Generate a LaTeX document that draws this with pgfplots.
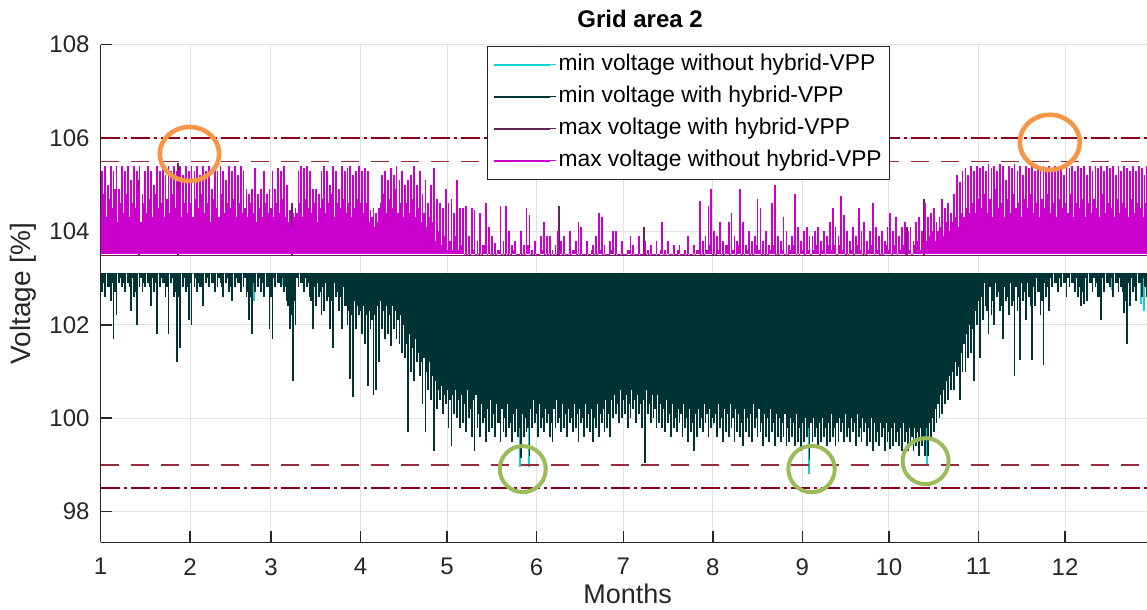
\documentclass[border=0pt]{standalone}
\usepackage{fontspec}
\setmainfont{Liberation Sans}
\usepackage{pgfplots}
\usepackage{pgfplotstable}
\pgfplotsset{compat=1.18}

\definecolor{cyanC}{RGB}{20,210,210}
\definecolor{tealD}{RGB}{0,51,51}
\definecolor{tealL}{RGB}{105,155,155}
\definecolor{purpC}{RGB}{100,35,85}
\definecolor{magC}{RGB}{204,0,204}
\definecolor{axisC}{RGB}{38,38,38}
\definecolor{gridC}{RGB}{225,225,225}
\definecolor{limA}{RGB}{150,45,60}
\definecolor{limB}{RGB}{140,0,25}
\definecolor{orC}{RGB}{247,150,70}
\definecolor{grC}{RGB}{155,187,89}

% daily dips / peaks: d = day of year, ta/tb = min voltage with hybrid-VPP (two per day),
% ma/mb = max voltage without hybrid-VPP (two per day)
\pgfplotstableread{
d ta tb ma mb
0 103.0 102.7 104.4 105.3
1 102.9 102.6 104.8 105.4
2 103.1 102.8 104.3 105.0
3 102.8 102.5 104.7 105.4
4 102.9 101.7 104.5 105.3
5 102.7 102.2 104.9 105.4
6 103.1 102.9 104.2 104.9
7 103.0 102.8 104.6 105.4
8 102.9 102.7 104.4 105.3
9 103.1 102.9 104.8 105.4
10 102.8 102.3 104.3 105.1
11 103.0 102.6 104.6 105.4
12 102.7 102.0 104.5 105.3
13 103.1 102.8 104.9 105.4
14 103.0 102.7 104.2 104.8
15 102.9 102.8 104.6 105.3
16 103.1 102.9 104.4 105.4
17 102.8 102.4 104.7 105.3
18 103.0 102.7 104.3 105.0
19 102.9 101.8 104.8 105.4
20 103.1 102.8 104.5 105.3
21 103.0 102.9 104.6 105.4
22 102.9 102.6 104.3 105.2
23 102.8 101.8 104.7 105.4
24 103.1 102.9 104.4 105.3
25 103.0 102.6 104.8 105.4
26 102.7 101.2 104.5 105.3
27 102.6 101.5 104.9 105.4
28 103.1 102.8 104.3 105.2
29 103.0 102.7 104.6 105.4
30 102.8 102.1 104.4 105.3
31 102.9 102.0 104.6 105.4
32 103.1 102.8 104.3 105.3
33 103.0 102.7 104.7 105.4
34 102.9 102.8 104.5 105.2
35 102.8 102.4 104.8 105.4
36 103.1 102.9 104.4 105.3
37 103.0 102.8 104.6 105.4
38 103.1 102.9 104.2 104.9
39 102.9 102.7 104.7 105.4
40 103.1 102.8 104.5 105.3
41 103.0 102.9 104.3 105.4
42 102.8 102.6 104.8 105.3
43 103.1 102.9 104.4 105.1
44 103.0 102.7 104.6 105.4
45 102.8 102.5 104.5 105.3
46 103.1 102.8 104.7 105.4
47 103.0 102.9 104.3 105.2
48 102.9 102.7 104.6 105.4
49 103.1 102.8 104.4 105.3
50 103.0 102.6 104.5 104.9
51 102.7 102.1 104.3 104.8
52 102.6 101.8 104.6 104.9
53 102.9 102.7 104.4 105.35
54 103.1 102.8 104.2 104.8
55 103.0 102.7 104.5 104.9
56 102.9 102.6 104.3 105.3
57 103.1 102.8 104.6 104.8
58 102.8 101.9 104.4 104.9
59 102.6 101.7 104.5 105.3
60 103.0 102.8 104.3 104.9
61 103.1 102.9 104.6 105.35
62 102.9 102.8 104.4 105.3
63 103.0 102.7 104.7 105.4
64 102.8 102.5 104.3 105.0
65 102.4 101.9 104.2 104.45
66 102.2 100.8 104.1 104.4
67 102.5 102.0 104.3 104.5
68 103.0 102.8 104.4 105.3
69 103.1 102.9 104.6 105.4
70 102.9 102.7 104.3 105.35
71 103.0 102.8 104.7 105.4
72 102.9 102.6 104.5 105.3
73 102.5 101.9 104.4 104.9
74 102.8 102.4 104.6 104.9
75 102.9 102.6 104.2 104.8
76 102.7 102.2 104.5 105.3
77 102.8 102.3 104.7 105.4
78 102.9 102.5 104.4 105.3
79 102.6 101.9 104.6 105.0
80 102.5 101.5 104.8 105.4
81 102.9 102.6 104.3 105.3
82 102.7 102.3 104.6 104.9
83 102.6 101.9 104.5 105.4
84 102.8 102.4 104.7 105.3
85 102.4 102.0 104.4 105.35
86 102.3 100.85 104.6 105.4
87 102.2 100.45 104.3 105.2
88 102.5 101.9 104.5 105.3
89 102.4 102.2 104.7 105.4
90 102.3 101.8 104.6 105.3
91 102.4 101.6 104.4 105.35
92 102.2 100.7 104.6 105.3
93 102.3 101.9 104.2 104.45
94 102.1 100.5 104.3 104.5
95 102.2 100.6 104.1 104.4
96 102.4 101.2 104.2 104.5
97 102.5 101.9 104.6 105.2
98 102.3 101.7 104.8 105.3
99 102.4 101.8 104.4 105.1
100 102.2 101.55 104.7 105.35
101 102.4 101.9 104.5 105.2
102 102.3 101.7 104.9 105.4
103 102.1 101.6 104.4 105.1
104 102.2 101.4 104.6 105.3
105 102.0 101.3 104.3 105.0
106 101.6 99.7 104.6 105.1
107 101.8 101.0 104.4 105.2
108 101.5 100.8 104.7 105.4
109 101.7 101.2 104.3 105.0
110 101.4 100.9 104.5 105.3
111 101.2 100.3 104.2 104.8
112 101.3 99.7 104.4 105.1
113 101.0 100.6 104.1 104.6
114 101.2 100.4 104.3 105.0
115 100.9 99.3 104.2 105.35
116 100.8 100.2 103.8 104.7
117 100.6 100.4 104.0 104.6
118 100.7 100.1 103.7 104.5
119 100.5 100.3 103.9 104.9
120 100.6 99.8 103.6 104.6
121 100.4 99.4 103.8 104.7
122 100.5 100.1 103.6 104.4
123 100.6 100.0 103.9 105.1
124 100.4 99.8 103.6 104.5
125 100.5 99.9 103.7 104.5
126 100.3 99.7 103.5 104.55
127 100.6 100.0 103.5 103.9
128 100.2 99.6 103.5 104.5
129 100.4 99.3 103.6 104.45
130 100.5 99.8 103.5 103.8
131 100.1 99.6 103.5 104.4
132 100.3 99.9 103.5 103.7
133 100.0 99.5 103.7 104.6
134 100.2 99.7 103.5 104.1
135 100.4 99.8 103.5 103.9
136 100.1 99.6 103.5 103.75
137 100.3 99.9 103.5 103.6
138 99.9 99.5 103.6 104.55
139 100.2 99.7 103.5 103.8
140 100.0 99.6 103.5 104.55
141 100.3 99.8 103.5 104.0
142 99.9 99.5 103.5 103.7
143 100.1 99.7 103.6 103.8
144 100.2 99.6 103.5 103.5
145 99.8 99.15 103.5 104.0
146 100.1 99.6 103.5 103.7
147 100.0 99.7 103.5 104.5
148 99.8 99.2 103.7 104.35
149 100.2 99.8 103.5 103.6
150 100.4 99.9 103.5 103.8
151 100.1 99.6 103.5 103.5
152 100.3 99.8 103.5 103.9
153 100.0 99.7 103.6 104.2
154 100.2 99.9 103.5 103.9
155 100.1 99.6 103.5 103.9
156 99.9 99.5 103.5 103.6
157 100.2 99.8 103.5 103.7
158 100.4 99.9 103.5 104.0
159 100.0 99.7 103.6 103.8
160 100.3 99.8 103.5 103.9
161 100.1 99.6 103.5 103.5
162 100.2 99.9 103.5 104.0
163 100.0 99.7 103.5 103.6
164 100.3 99.8 103.6 103.8
165 100.1 99.5 103.5 104.2
166 100.2 99.9 103.5 104.1
167 100.0 99.6 103.5 103.5
168 100.3 99.8 103.5 103.8
169 100.1 99.7 103.5 103.5
170 100.2 99.5 103.6 103.7
171 100.0 99.8 103.5 103.9
172 100.3 99.6 103.5 104.4
173 100.1 99.9 103.6 104.3
174 100.2 99.7 103.5 103.7
175 100.4 99.8 103.5 103.5
176 100.1 99.6 103.5 103.8
177 100.4 100.0 103.6 104.0
178 100.5 100.1 103.5 104.0
179 100.3 99.9 103.5 103.5
180 100.6 100.0 103.5 103.8
181 100.4 100.1 103.5 103.5
182 100.5 99.8 103.5 103.6
183 100.3 100.0 103.6 103.9
184 100.6 100.2 103.5 103.7
185 100.4 99.9 103.5 103.5
186 100.5 100.1 103.5 103.9
187 100.3 99.8 103.5 103.5
188 100.4 99.05 103.5 103.8
189 100.6 100.1 103.5 103.6
190 100.3 99.9 103.5 103.7
191 100.5 100.0 103.5 103.5
192 100.2 99.8 103.5 103.8
193 100.5 99.9 103.5 103.5
194 100.3 99.8 103.6 104.2
195 100.2 99.7 103.5 103.6
196 100.4 99.9 103.5 103.8
197 100.1 99.6 103.5 103.5
198 100.3 99.8 103.5 103.7
199 100.0 99.7 103.5 103.5
200 100.2 99.9 103.6 103.7
201 100.1 99.6 103.5 103.5
202 100.3 99.8 103.5 103.6
203 100.0 99.5 103.5 103.9
204 100.2 99.7 103.5 103.5
205 99.9 99.3 103.5 103.7
206 100.1 99.6 103.5 103.6
207 100.2 99.8 103.6 104.65
208 100.0 99.7 103.5 103.8
209 100.3 99.9 103.5 103.9
210 100.1 99.6 103.6 104.55
211 100.2 99.8 103.7 104.9
212 100.0 99.9 103.5 104.0
213 100.1 99.6 103.5 103.9
214 100.3 99.8 103.6 104.2
215 100.0 99.5 103.5 103.8
216 100.2 99.7 103.5 103.7
217 100.1 99.6 103.7 104.2
218 100.3 99.8 103.5 104.4
219 100.0 99.5 103.6 103.9
220 100.2 99.7 103.5 103.8
221 100.1 99.6 103.7 104.9
222 99.9 99.4 103.5 104.2
223 100.2 99.7 103.5 103.7
224 100.0 99.6 103.6 104.0
225 100.1 99.5 103.5 103.8
226 100.3 99.8 103.5 103.9
227 100.0 99.6 103.7 104.7
228 100.2 99.7 103.6 104.5
229 99.9 99.4 103.5 103.8
230 100.1 99.6 103.5 104.0
231 100.0 99.5 103.5 103.7
232 100.2 99.7 103.6 104.6
233 99.9 99.4 103.7 105.0
234 100.1 99.6 103.5 103.9
235 100.0 99.5 103.5 103.8
236 99.9 99.6 103.6 104.3
237 100.1 99.4 103.5 104.0
238 99.8 99.5 103.5 103.7
239 100.0 99.6 103.6 103.9
240 99.9 99.4 103.7 104.8
241 100.1 99.5 103.5 104.1
242 99.8 99.3 103.5 103.8
243 99.9 99.5 103.6 104.0
244 100.0 99.6 103.5 104.1
245 99.8 99.1 103.6 103.9
246 99.9 99.5 103.5 103.9
247 100.0 99.6 103.6 104.0
248 99.8 99.4 103.7 104.1
249 99.9 99.5 103.5 103.8
250 100.0 99.6 103.6 104.0
251 99.8 99.4 103.5 103.9
252 99.9 99.5 103.7 104.2
253 100.1 99.6 103.6 104.5
254 99.8 99.4 103.7 104.1
255 99.9 99.5 103.5 103.9
256 100.0 99.7 103.7 104.75
257 99.9 99.5 103.6 104.35
258 100.1 99.6 103.5 104.0
259 99.8 99.5 103.5 103.8
260 100.0 99.7 103.6 104.1
261 99.9 99.4 103.5 103.9
262 100.1 99.6 103.7 104.5
263 99.8 99.5 103.6 104.0
264 100.0 99.7 103.5 104.2
265 99.9 99.4 103.5 103.8
266 99.8 99.5 103.6 104.0
267 100.0 99.3 103.7 104.6
268 99.9 99.5 103.5 104.1
269 99.7 99.4 103.6 103.9
270 99.9 99.6 103.5 104.0
271 99.8 99.3 103.5 103.8
272 99.9 99.5 103.7 104.1
273 99.7 99.35 103.6 104.4
274 99.8 99.4 103.5 104.0
275 99.9 99.5 103.7 104.3
276 99.7 99.4 103.5 103.9
277 99.8 99.3 103.6 104.1
278 99.9 99.5 103.7 104.2
279 99.7 99.3 103.5 104.0
280 99.8 99.4 103.6 104.1
281 99.6 99.3 103.5 103.8
282 99.8 99.4 103.7 104.2
283 99.7 99.2 103.8 104.3
284 99.8 99.4 103.6 104.0
285 99.6 99.2 103.8 104.6
286 99.8 99.2 103.8 104.3
287 99.9 99.6 103.9 104.4
288 100.0 99.7 104.0 104.5
289 100.2 99.9 103.8 104.2
290 100.3 100.0 104.0 104.3
291 100.5 100.1 104.1 104.7
292 100.6 100.3 103.9 104.5
293 100.8 100.4 104.2 104.6
294 100.9 100.6 104.0 104.4
295 101.0 100.6 104.2 104.8
296 101.2 100.9 104.3 105.2
297 101.1 100.4 104.1 105.05
298 101.4 101.0 104.4 105.3
299 101.6 101.0 104.3 105.35
300 101.8 101.3 104.5 105.2
301 102.0 101.4 104.4 105.4
302 101.9 100.8 104.6 105.3
303 102.3 102.0 104.4 105.4
304 102.5 101.3 104.7 105.35
305 102.6 102.1 104.5 105.4
306 102.9 102.4 104.8 105.3
307 102.3 101.8 104.4 105.45
308 102.8 102.2 104.7 105.35
309 102.5 102.0 104.3 105.4
310 102.9 102.6 104.9 105.3
311 102.7 102.3 104.5 105.45
312 102.4 101.7 104.6 105.4
313 102.8 102.5 104.3 105.1
314 102.6 102.2 104.7 105.4
315 102.9 102.4 104.4 105.35
316 102.5 100.9 104.8 105.45
317 102.8 102.3 104.5 105.3
318 102.6 101.25 104.6 105.4
319 102.9 102.5 104.3 105.2
320 102.7 102.1 104.7 105.4
321 102.9 102.6 104.5 105.35
322 102.4 101.25 104.8 105.45
323 102.8 102.4 104.4 105.3
324 103.0 102.7 104.6 105.4
325 102.7 102.2 104.3 105.35
326 102.5 101.15 104.7 105.4
327 102.9 102.6 104.5 105.3
328 102.8 102.3 104.8 105.4
329 103.0 102.8 104.4 105.35
330 103.1 102.9 104.6 105.4
331 102.9 102.7 104.3 105.3
332 103.0 102.8 104.7 105.4
333 103.1 102.9 104.5 105.2
334 102.9 102.6 104.6 105.4
335 103.0 102.8 104.4 105.35
336 103.1 102.9 104.8 105.4
337 102.9 102.7 104.3 105.3
338 103.0 102.6 104.6 105.4
339 102.8 102.4 104.5 105.35
340 102.7 102.45 104.7 105.4
341 103.0 102.5 104.3 105.2
342 103.1 102.9 104.6 105.4
343 102.9 102.7 104.4 105.3
344 103.0 102.8 104.7 105.4
345 102.9 102.6 104.5 105.35
346 102.6 102.1 104.3 105.4
347 103.0 102.7 104.8 105.3
348 103.1 102.9 104.4 105.4
349 102.9 102.8 104.6 105.35
350 103.0 102.6 104.5 105.4
351 103.1 102.9 104.3 105.2
352 102.9 102.7 104.7 105.4
353 103.0 102.8 104.4 105.3
354 102.7 102.25 104.6 105.4
355 102.5 101.6 104.5 105.35
356 102.9 102.4 104.3 105.3
357 103.0 102.7 104.7 105.4
358 102.8 102.5 104.4 105.3
359 103.1 102.9 104.6 105.4
360 102.9 102.6 104.5 105.35
361 103.0 102.8 104.3 105.2
362 102.8 102.6 104.6 105.4
}\daily

% min voltage without hybrid-VPP (only where it differs visibly)
\pgfplotstableread{
x v
0 103.1
53.25 102.5
63.25 102.85
145.25 98.95
148.25 98.95
212.25 99.85
245.25 98.8
286.25 99.0
350.25 102.75
360.25 102.45
361.25 102.3
362.5 103.1
}\minwo

% max voltage with hybrid-VPP (only where it differs visibly)
\pgfplotstableread{
x v
0 103.5
13.25 105.1
26.75 105.47
66.25 104.6
158.75 104.55
188.25 104.1
279.25 104.1
285.25 104.7
362.5 103.5
}\maxw

\begin{document}
\begin{tikzpicture}
\begin{axis}[
  width=527pt, height=248.85pt, scale only axis,
  at={(0pt,0pt)}, anchor=south west,
  xmin=0, xmax=365, ymin=97.34, ymax=108,
  axis x line*=bottom, axis y line*=left,
  axis line style={draw=axisC, line width=0.75pt},
  xtick={0,31,59,90,120,151,181,212,243,273,304,334},
  xticklabels={1,2,3,4,5,6,7,8,9,10,11,12},
  ytick={98,100,102,104,106,108},
  tick align=inside, major tick length=5.5pt,
  tick style={draw=axisC, line width=0.75pt},
  grid=major, major grid style={draw=gridC, line width=0.5pt},
  tick label style={font=\fontsize{12}{14}\selectfont, text=axisC},
  /pgf/number format/assume math mode=true,
  xticklabel style={yshift=-4.5pt},
  yticklabel style={xshift=-2pt},
  xlabel={Months}, ylabel={Voltage [\%]},
  xlabel style={at={(axis description cs:0.5,0)}, anchor=base, yshift=-30.8pt,
    font=\fontsize{13.5}{16}\selectfont, text=axisC},
  ylabel style={at={(axis description cs:-0.0733,0.5)}, anchor=center,
    font=\fontsize{14}{16}\selectfont, text=axisC},
  title={Grid area 2},
  title style={at={(axis description cs:0.5118,1)}, anchor=base, yshift=2.35pt,
    font=\bfseries\fontsize{12}{14}\selectfont},
  legend image code/.code={\draw[#1, line width=0.6pt] (0pt,0pt) -- (28pt,0pt);
    \path (0pt,0pt) -- (31pt,0pt);},
  legend style={at={(rel axis cs:0.3666,0.9974)}, anchor=north west,
    draw=black!85, line width=0.5pt, fill=white,
    font=\fontsize{11.4}{13}\selectfont,
    inner xsep=3pt, inner ysep=2.75pt, row sep=3pt, cells={anchor=west},
    nodes={inner sep=1pt, text height=8.4pt, text depth=2.6pt}},
  legend cell align=left,
]
\addlegendimage{draw=cyanC}
\addlegendentry{min voltage without hybrid-VPP}
\addlegendimage{draw=tealD}
\addlegendentry{min voltage with hybrid-VPP}
\addlegendimage{draw=purpC}
\addlegendentry{max voltage with hybrid-VPP}
\addlegendimage{draw=magC}
\addlegendentry{max voltage without hybrid-VPP}

% min voltage without hybrid-VPP
\addplot[forget plot, draw=none, mark=none,
  error bars/.cd, y dir=minus, y explicit, error mark=none,
  error bar style={draw=cyanC, line width=0.9pt, solid}]
  table[x=x, y expr=103.1, y error minus expr=103.1-\thisrow{v}] {\minwo};
% min voltage with hybrid-VPP
\addplot[forget plot, draw=tealL, line width=0.6pt, mark=none,
  error bars/.cd, y dir=minus, y explicit, error mark=none,
  error bar style={draw=tealD, line width=0.9pt, solid}]
  table[x=d, y expr=103.1, y error minus expr=103.1-\thisrow{ta}] {\daily};
\addplot[forget plot, draw=none, mark=none,
  error bars/.cd, y dir=minus, y explicit, error mark=none,
  error bar style={draw=tealD, line width=0.9pt, solid}]
  table[x expr=\thisrow{d}+0.5, y expr=103.1, y error minus expr=103.1-\thisrow{tb}] {\daily};
% max voltage with hybrid-VPP
\addplot[forget plot, draw=purpC, line width=0.7pt, mark=none,
  error bars/.cd, y dir=plus, y explicit, error mark=none,
  error bar style={draw=purpC, line width=0.9pt, solid}]
  table[x=x, y expr=103.48, y error plus expr=\thisrow{v}-103.48] {\maxw};
% max voltage without hybrid-VPP
\addplot[forget plot, draw=none, mark=none,
  error bars/.cd, y dir=plus, y explicit, error mark=none,
  error bar style={draw=magC, line width=0.9pt, solid}]
  table[x=d, y expr=103.52, y error plus expr=\thisrow{ma}-103.52] {\daily};
\addplot[forget plot, draw=none, mark=none,
  error bars/.cd, y dir=plus, y explicit, error mark=none,
  error bar style={draw=magC, line width=0.9pt, solid}]
  table[x expr=\thisrow{d}+0.5, y expr=103.52, y error plus expr=\thisrow{mb}-103.52] {\daily};

% voltage limits
\addplot[forget plot, draw=limB, line width=0.75pt, dash pattern=on 9.5pt off 2pt on 1.5pt off 2pt]
  coordinates {(0,106) (365,106)};
\addplot[forget plot, draw=limA, line width=0.75pt, dash pattern=on 9.2pt off 5.8pt]
  coordinates {(0,105.5) (365,105.5)};
\addplot[forget plot, draw=limA, line width=0.75pt, dash pattern=on 9.2pt off 5.8pt]
  coordinates {(0,99) (365,99)};
\addplot[forget plot, draw=limB, line width=0.75pt, dash pattern=on 9.5pt off 2pt on 1.5pt off 2pt]
  coordinates {(0,98.5) (365,98.5)};

% highlight circles
\draw[orC, line width=2.3pt] (axis cs:30.78,105.66) ellipse [x radius=14.85pt, y radius=13.5pt];
\draw[orC, line width=2.3pt] (axis cs:328.7,105.91) ellipse [x radius=15pt, y radius=13.75pt];
\draw[grC, line width=2pt] (axis cs:146.2,98.91) circle [radius=11.5pt];
\draw[grC, line width=2pt] (axis cs:246.2,98.91) circle [radius=11.6pt];
\draw[grC, line width=2pt] (axis cs:285.7,99.08) circle [radius=11.5pt];
\end{axis}
\pgfresetboundingbox
\useasboundingbox (-50.3pt,-33.8pt) rectangle (523.2pt,271.2pt);
\end{tikzpicture}
\end{document}
